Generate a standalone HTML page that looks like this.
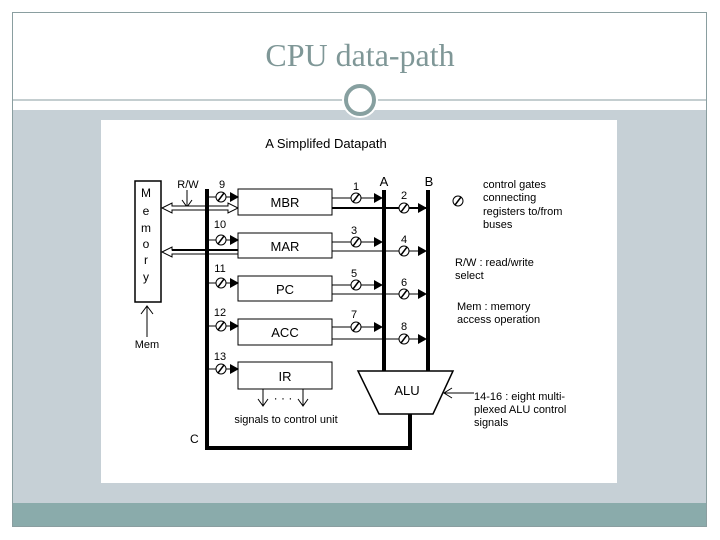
<!DOCTYPE html>
<html><head><style>
body{margin:0;background:#fff;}
svg{display:block;}
text{font-family:"Liberation Sans",sans-serif;fill:#000;}
</style></head><body>
<svg width="720" height="540" viewBox="0 0 720 540" xmlns="http://www.w3.org/2000/svg">
<defs>
<marker id="ah" markerWidth="9" markerHeight="10" refX="8" refY="5" orient="auto" markerUnits="userSpaceOnUse"><path d="M0,0 L9,5 L0,10z" fill="#000"/></marker>
<g id="gate"><circle r="5" fill="#fff" stroke="#000" stroke-width="1"/><line x1="-3" y1="4" x2="3" y2="-4" stroke="#000" stroke-width="1.5"/></g>
</defs>
<rect x="0" y="0" width="720" height="540" fill="#fff"/>
<rect x="12" y="110" width="695" height="393" fill="#c6d0d6"/>
<rect x="12" y="503" width="695" height="24" fill="#8aabab"/>
<rect x="12.5" y="12.5" width="694" height="514" fill="none" stroke="#8a9ea0" stroke-width="1"/>
<line x1="12" y1="100" x2="707" y2="100" stroke="#8a9ea0" stroke-width="1"/>
<text x="360" y="66" text-anchor="middle" style="font-family:'Liberation Serif',serif;font-size:32px;fill:#7f9797">CPU data-path</text>
<circle cx="360" cy="100" r="18" fill="#fff"/>
<circle cx="360" cy="100" r="14" fill="#fff" stroke="#87a0a0" stroke-width="4"/>
<rect x="101" y="120" width="516" height="363" fill="#fff"/>

<text x="326" y="148" text-anchor="middle" font-size="13">A Simplifed Datapath</text>
<rect x="135" y="181" width="26" height="121" fill="#fff" stroke="#000" stroke-width="1.5"/>
<g font-size="12" text-anchor="middle">
<text x="146" y="197">M</text><text x="146" y="215">e</text><text x="146" y="232">m</text><text x="146" y="248">o</text><text x="146" y="264">r</text><text x="146" y="281">y</text></g>
<line x1="147" y1="306" x2="147" y2="337" stroke="#000"/><path d="M141,314 L147,306 L153,314" fill="none" stroke="#000"/>
<text x="147" y="348" text-anchor="middle" font-size="11">Mem</text>
<text x="188" y="188" text-anchor="middle" font-size="11">R/W</text>
<line x1="187" y1="190" x2="187" y2="206" stroke="#000"/><path d="M182,200 L187,207 L192,200" fill="none" stroke="#000"/>
<path d="M162,208 L172,203 L172,206 L228,206 L228,203 L238,208 L228,213 L228,210 L172,210 L172,213 Z" fill="#fff" stroke="#000"/>
<path d="M162,252 L172,247 L172,250 L238,250 L238,254 L172,254 L172,257 Z" fill="#fff" stroke="#000"/>
<line x1="172" y1="250" x2="238" y2="250" stroke="#000" stroke-width="2"/>
<path d="M207,189 L207,448 L410,448 L410,414" fill="none" stroke="#000" stroke-width="4"/>
<text x="190" y="443" font-size="12">C</text>
<line x1="384" y1="190" x2="384" y2="371" stroke="#000" stroke-width="4"/>
<line x1="428" y1="190" x2="428" y2="371" stroke="#000" stroke-width="4"/>
<text x="384" y="186" text-anchor="middle" font-size="13">A</text>
<text x="429" y="186" text-anchor="middle" font-size="13">B</text>
<g fill="#fff" stroke="#000" stroke-width="1">
<rect x="238" y="189" width="94" height="26"/><rect x="238" y="233" width="94" height="25"/>
<rect x="238" y="276" width="94" height="25"/><rect x="238" y="319" width="94" height="26"/>
<rect x="238" y="362" width="94" height="27"/></g>
<g font-size="13" text-anchor="middle">
<text x="285" y="207">MBR</text><text x="285" y="251">MAR</text><text x="285" y="294">PC</text><text x="285" y="337">ACC</text><text x="285" y="381">IR</text></g>
<g stroke="#000" stroke-width="1" marker-end="url(#ah)">
<line x1="209" y1="197" x2="238" y2="197"/><line x1="209" y1="240" x2="238" y2="240"/>
<line x1="209" y1="283" x2="238" y2="283"/><line x1="209" y1="326" x2="238" y2="326"/>
<line x1="209" y1="369" x2="238" y2="369"/>
<line x1="332" y1="198" x2="382" y2="198"/><line x1="332" y1="242" x2="382" y2="242"/>
<line x1="332" y1="285" x2="382" y2="285"/><line x1="332" y1="327" x2="382" y2="327"/>
<line x1="332" y1="208" x2="426" y2="208" stroke-width="2"/><line x1="332" y1="251" x2="426" y2="251"/>
<line x1="332" y1="294" x2="426" y2="294"/><line x1="332" y1="339" x2="426" y2="339"/>
</g>
<use href="#gate" x="221" y="197"/><use href="#gate" x="221" y="240"/><use href="#gate" x="221" y="283"/><use href="#gate" x="221" y="326"/><use href="#gate" x="221" y="369"/>
<use href="#gate" x="356" y="198"/><use href="#gate" x="356" y="242"/><use href="#gate" x="356" y="285"/><use href="#gate" x="356" y="327"/>
<use href="#gate" x="404" y="208"/><use href="#gate" x="404" y="251"/><use href="#gate" x="404" y="294"/><use href="#gate" x="404" y="339"/>
<g font-size="11" text-anchor="middle">
<text x="222" y="188">9</text><text x="220" y="228">10</text><text x="220" y="272">11</text><text x="220" y="316">12</text><text x="220" y="360">13</text>
<text x="356" y="190">1</text><text x="354" y="234">3</text><text x="354" y="277">5</text><text x="354" y="318">7</text>
<text x="404" y="199">2</text><text x="404" y="243">4</text><text x="404" y="286">6</text><text x="404" y="330">8</text></g>
<g stroke="#000" fill="none"><line x1="263" y1="389" x2="263" y2="405"/><path d="M258,399 L263,406 L268,399"/>
<line x1="303" y1="389" x2="303" y2="405"/><path d="M298,399 L303,406 L308,399"/></g>
<text x="283" y="402" text-anchor="middle" font-size="12">· · ·</text>
<text x="286" y="423" text-anchor="middle" font-size="11">signals to control unit</text>
<path d="M358,371 L453,371 L433,414 L379,414 Z" fill="#fff" stroke="#000" stroke-width="1.5"/>
<text x="407" y="395" text-anchor="middle" font-size="13">ALU</text>
<line x1="444" y1="393" x2="474" y2="393" stroke="#000"/><path d="M452,388 L444,393 L452,398" fill="none" stroke="#000"/>
<use href="#gate" x="458" y="201"/>
<g font-size="11"><text x="483" y="188">control gates</text><text x="483" y="201">connecting</text><text x="483" y="215">registers to/from</text><text x="483" y="228">buses</text>
<text x="455" y="266">R/W :  read/write</text><text x="455" y="279">select</text>
<text x="457" y="310">Mem : memory</text><text x="457" y="323">access operation</text>
<text x="474" y="400">14-16 : eight multi-</text><text x="474" y="413">plexed ALU control</text><text x="474" y="426">signals</text></g>
</svg>
</body></html>
